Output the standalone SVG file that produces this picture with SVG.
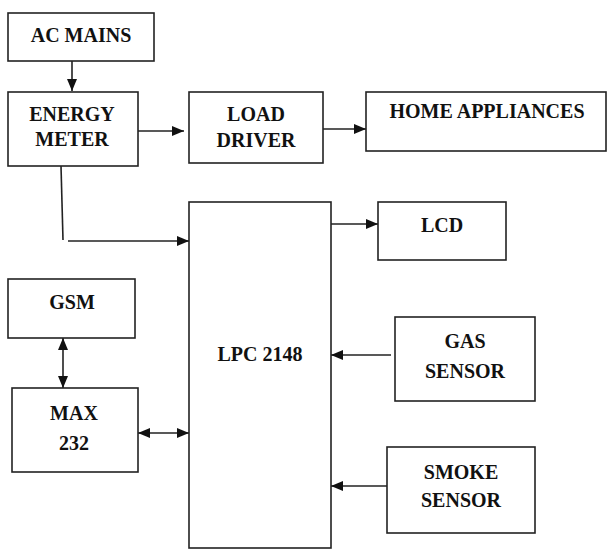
<svg xmlns="http://www.w3.org/2000/svg" width="607" height="549" viewBox="0 0 607 549">
<style>
.box{fill:#fff;stroke:#222;stroke-width:1.6}
.t{font-family:"Liberation Serif","Times New Roman",serif;font-weight:bold;font-size:20px;fill:#111;text-anchor:middle}
.c{stroke:#222;stroke-width:1.6;fill:none}
</style>
<defs>
<marker id="ah" viewBox="0 0 12 10" refX="12" refY="5" markerWidth="12" markerHeight="10" markerUnits="userSpaceOnUse" orient="auto-start-reverse">
<path d="M0,0 L12,5 L0,10 Z" fill="#111"/>
</marker>
</defs>
<rect width="607" height="549" fill="#fff"/>
<g id="connectors">
<line class="c" x1="72" y1="61" x2="72" y2="91" marker-end="url(#ah)"/>
<line class="c" x1="138" y1="131" x2="184" y2="131" marker-end="url(#ah)"/>
<line class="c" x1="323" y1="129" x2="366" y2="129" marker-end="url(#ah)"/>
<polyline class="c" points="61,166 63,240"/>
<line class="c" x1="68" y1="241" x2="189" y2="241" marker-end="url(#ah)"/>
<line class="c" x1="331" y1="224" x2="378" y2="224" marker-end="url(#ah)"/>
<line class="c" x1="63" y1="338" x2="63" y2="388" marker-start="url(#ah)" marker-end="url(#ah)"/>
<line class="c" x1="138" y1="433" x2="189" y2="433" marker-start="url(#ah)" marker-end="url(#ah)"/>
<line class="c" x1="391" y1="355" x2="331" y2="355" marker-end="url(#ah)"/>
<line class="c" x1="391" y1="486" x2="331" y2="486" marker-end="url(#ah)"/>
</g>
<g id="ac-mains"><rect class="box" x="8" y="13" width="146" height="48"/><text class="t" x="81" y="42">AC MAINS</text></g>
<g id="energy-meter"><rect class="box" x="8" y="92" width="130" height="74"/><text class="t" x="72" y="121">ENERGY</text><text class="t" x="72" y="146">METER</text></g>
<g id="load-driver"><rect class="box" x="189" y="92" width="134" height="71"/><text class="t" x="256" y="121">LOAD</text><text class="t" x="256" y="147">DRIVER</text></g>
<g id="home-appliances"><rect class="box" x="366" y="92" width="240" height="59"/><text class="t" x="487" y="118">HOME APPLIANCES</text></g>
<g id="lpc2148"><rect class="box" x="189" y="202" width="142" height="346"/><text class="t" x="260" y="361">LPC 2148</text></g>
<g id="lcd"><rect class="box" x="378" y="202" width="128" height="58"/><text class="t" x="442" y="232">LCD</text></g>
<g id="gsm"><rect class="box" x="8" y="279" width="127" height="59"/><text class="t" x="72" y="309">GSM</text></g>
<g id="max232"><rect class="box" x="12" y="388" width="126" height="84"/><text class="t" x="74" y="420">MAX</text><text class="t" x="74" y="450">232</text></g>
<g id="gas-sensor"><rect class="box" x="395" y="317" width="140" height="84"/><text class="t" x="465" y="348">GAS</text><text class="t" x="465" y="378">SENSOR</text></g>
<g id="smoke-sensor"><rect class="box" x="387" y="447" width="148" height="86"/><text class="t" x="461" y="479">SMOKE</text><text class="t" x="461" y="507">SENSOR</text></g>
</svg>
